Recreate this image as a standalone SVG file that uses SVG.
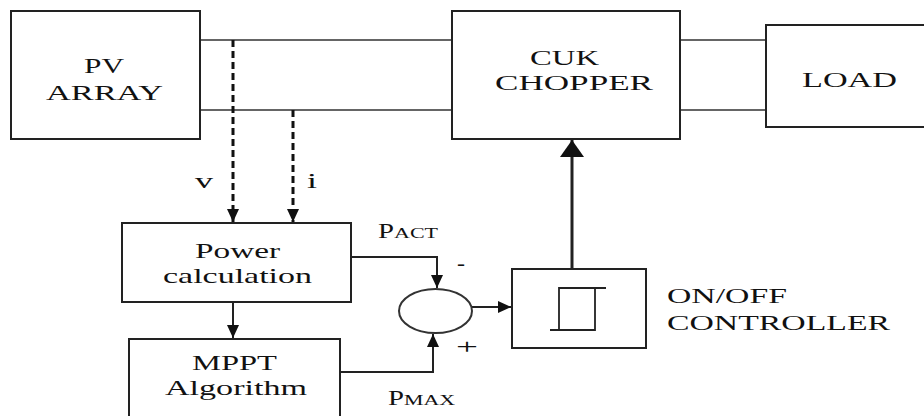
<svg xmlns="http://www.w3.org/2000/svg" width="924" height="416" viewBox="0 0 924 416">
<style>
.box{fill:#fff;stroke:#222;stroke-width:2}
.ln{fill:none;stroke:#222;stroke-width:2}
.bus{fill:none;stroke:#333;stroke-width:1.6}
.dash{fill:none;stroke:#111;stroke-width:3;stroke-dasharray:7 4}
.s{font-size:14px}
</style>
<defs>
<marker id="ah" markerUnits="userSpaceOnUse" markerWidth="14" markerHeight="14" refX="13" refY="7" orient="auto">
<path d="M0,1 L13,7 L0,13 Z" fill="#111"/>
</marker>
<marker id="ahBig" markerUnits="userSpaceOnUse" markerWidth="18" markerHeight="26" refX="17" refY="13" orient="auto">
<path d="M0,1 L17,13 L0,25 Z" fill="#111"/>
</marker>
</defs>
<rect width="924" height="416" fill="#fff"/>
<g id="connectors">
<path class="bus" d="M200,40 H452 M200,110 H452 M680,40 H766 M680,110 H766"/>
<path class="dash" d="M233,40 V222" marker-end="url(#ah)"/>
<path class="dash" d="M293,110 V222" marker-end="url(#ah)"/>
<path class="ln" d="M233,302 V338" marker-end="url(#ah)"/>
<path class="ln" d="M351,257 H437 V288" marker-end="url(#ah)"/>
<path class="ln" d="M340,372 H433 V334" marker-end="url(#ah)"/>
<path class="ln" d="M472,307 H511" marker-end="url(#ah)"/>
<path class="ln" d="M572,269 V140" style="stroke-width:3" marker-end="url(#ahBig)"/>
</g>
<g font-family="Liberation Serif, Times New Roman, serif" font-size="21" fill="#111">
<g id="pv">
<rect class="box" x="11" y="11" width="189" height="128"/>
<text x="84" y="73" textLength="40" lengthAdjust="spacingAndGlyphs">PV</text>
<text x="46" y="100" textLength="117" lengthAdjust="spacingAndGlyphs">ARRAY</text>
</g>
<g id="cuk">
<rect class="box" x="452" y="11" width="228" height="128"/>
<text x="530" y="65" textLength="69" lengthAdjust="spacingAndGlyphs">CUK</text>
<text x="495" y="90" textLength="158" lengthAdjust="spacingAndGlyphs">CHOPPER</text>
</g>
<g id="load">
<rect class="box" x="766" y="25" width="170" height="102"/>
<text x="802" y="87" textLength="95" lengthAdjust="spacingAndGlyphs">LOAD</text>
</g>
<g id="power">
<rect class="box" x="122" y="223" width="229" height="79"/>
<text x="195" y="258" textLength="85" lengthAdjust="spacingAndGlyphs">Power</text>
<text x="163" y="283" textLength="149" lengthAdjust="spacingAndGlyphs">calculation</text>
</g>
<g id="mppt">
<rect class="box" x="129" y="339" width="211" height="100"/>
<text x="192" y="370" textLength="85" lengthAdjust="spacingAndGlyphs">MPPT</text>
<text x="165" y="395" textLength="142" lengthAdjust="spacingAndGlyphs">Algorithm</text>
</g>
<g id="sum">
<ellipse cx="435.5" cy="311" rx="36.5" ry="22" fill="#fff" stroke="#333" stroke-width="2"/>
<text x="457" y="270" textLength="8" lengthAdjust="spacingAndGlyphs">-</text>
<text x="456" y="354" textLength="22" lengthAdjust="spacingAndGlyphs">+</text>
</g>
<g id="labels">
<text x="195" y="188" textLength="18" lengthAdjust="spacingAndGlyphs">v</text>
<text x="307" y="188" textLength="10" lengthAdjust="spacingAndGlyphs">i</text>
<text x="378" y="238" textLength="16" lengthAdjust="spacingAndGlyphs">P</text>
<text class="s" x="394" y="238" textLength="44" lengthAdjust="spacingAndGlyphs">ACT</text>
<text x="388" y="405" textLength="16" lengthAdjust="spacingAndGlyphs">P</text>
<text class="s" x="404" y="405" textLength="51" lengthAdjust="spacingAndGlyphs">MAX</text>
</g>
<g id="onoff">
<rect class="box" x="512" y="269" width="134" height="79"/>
<path class="ln" d="M606,288 H559 V330 M550,330 H595 V288" style="stroke-width:1.8"/>
<text x="667" y="303" textLength="120" lengthAdjust="spacingAndGlyphs">ON/OFF</text>
<text x="667" y="330" textLength="223" lengthAdjust="spacingAndGlyphs">CONTROLLER</text>
</g>
</g>
</svg>
